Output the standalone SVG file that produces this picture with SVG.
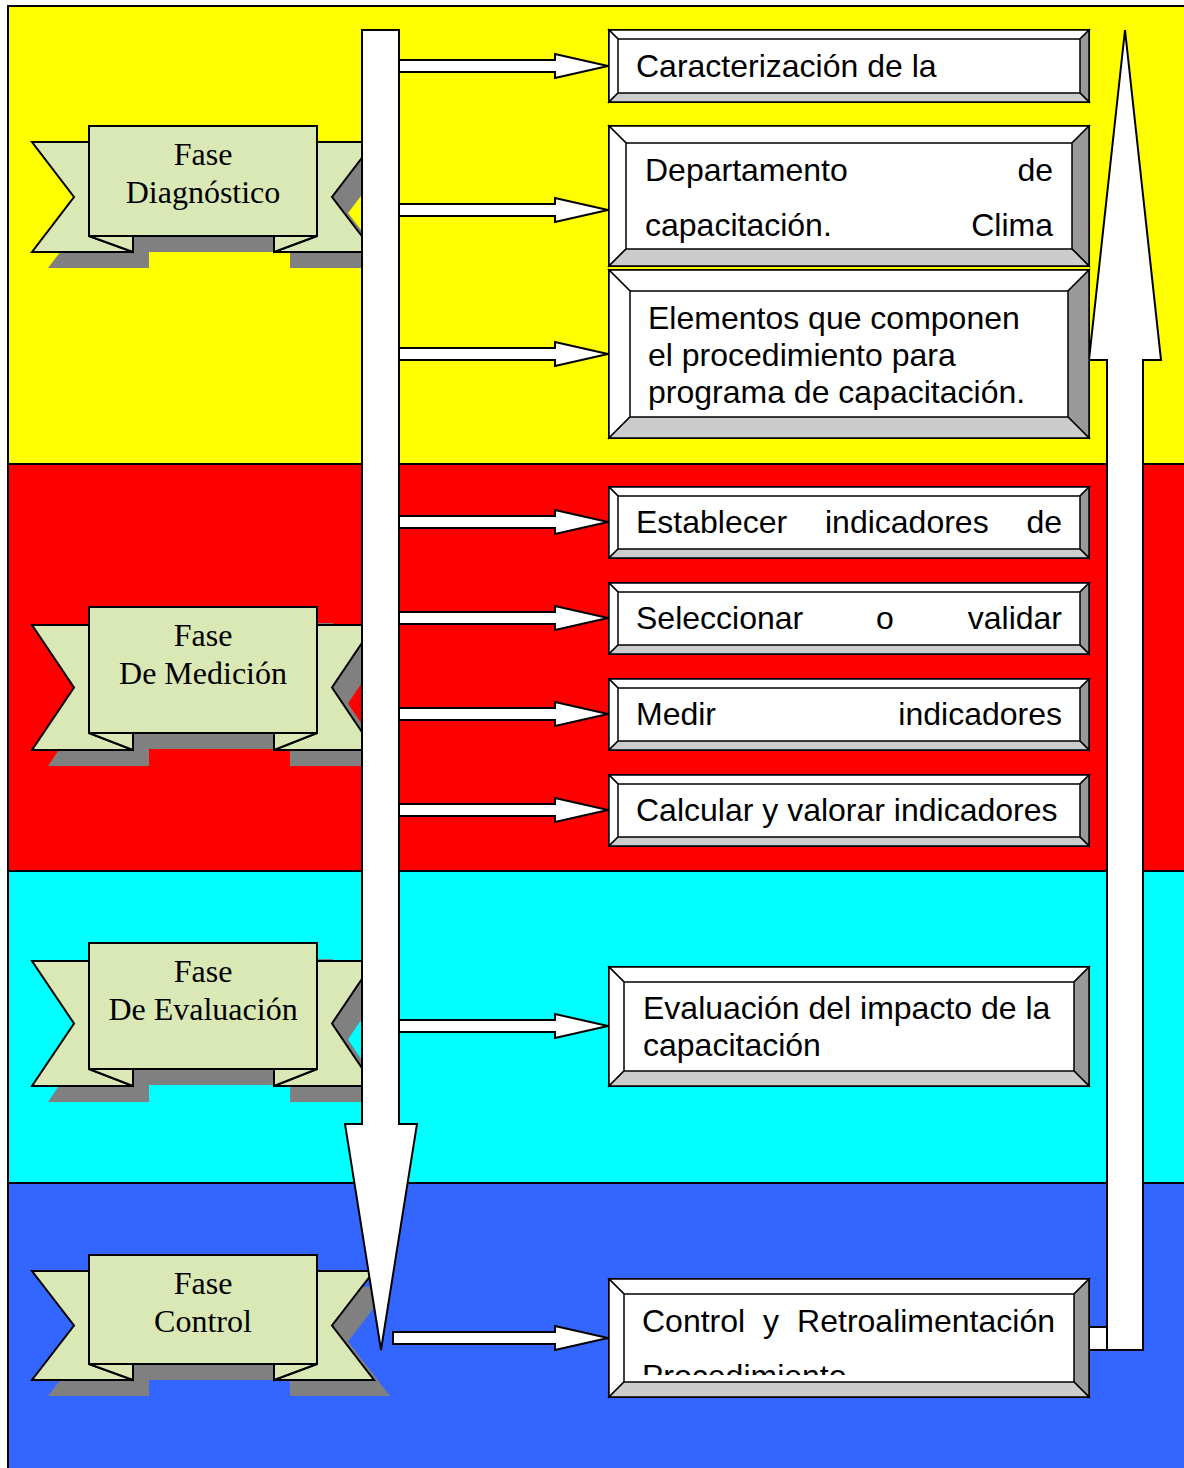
<svg xmlns="http://www.w3.org/2000/svg" width="1184" height="1468" viewBox="0 0 1184 1468">
<style>
.band{stroke:#000;stroke-width:2}
.rib{fill:#d9e8b5;stroke:#000;stroke-width:2;stroke-linejoin:miter}
.shd{fill:#808080}
.rt{font-family:"Liberation Serif","Times New Roman",serif;font-size:32px;fill:#000;text-anchor:middle}
.bt{font-family:"Liberation Sans",Arial,sans-serif;font-size:32px;fill:#000}
.wa{fill:#fff;stroke:#000;stroke-width:2;stroke-linejoin:miter}
.bvf{fill:#fff;stroke:#000;stroke-width:2}
.bvl{fill:#fff;stroke:#000;stroke-width:1.5}
.bvr{fill:#999;stroke:#000;stroke-width:1.5}
.bvb{fill:#ccc;stroke:#000;stroke-width:1.5}
</style>
<defs>
<path id="harrow" d="M399,-6 L555,-6 L555,-12 L608,0 L555,12 L555,6 L399,6 Z"/>
<clipPath id="clip9"><rect x="623" y="1294" width="451" height="81"/></clipPath>
</defs>

<g id="bands">
<rect class="band" x="8" y="6" width="1180" height="458" fill="#ffff00"/>
<rect class="band" x="8" y="464" width="1180" height="407" fill="#ff0000"/>
<rect class="band" x="8" y="871" width="1180" height="312" fill="#00ffff"/>
<rect class="band" x="8" y="1183" width="1180" height="290" fill="#3366ff"/>
</g>

<g id="ribbon-diagnostico">
<g class="shd" transform="translate(16,16)">
<rect x="89" y="126" width="228" height="110"/>
<polygon points="32,142 89,142 89,236 133,236 133,252 32,252 74,197"/>
<polygon points="317,142 374,142 332,197 374,252 274,252 274,236 317,236"/>
</g>
<polygon class="rib" points="32,142 89,142 89,236 133,252 32,252 74,197"/>
<polygon class="rib" points="317,142 374,142 332,197 374,252 274,252 317,236"/>
<polygon class="rib" points="89,236 133,236 133,252"/>
<polygon class="rib" points="317,236 274,236 274,252"/>
<rect class="rib" x="89" y="126" width="228" height="110"/>
<text class="rt" x="203" y="165">Fase</text>
<text class="rt" x="203" y="203">Diagnóstico</text>
</g>

<g id="ribbon-medicion">
<g class="shd" transform="translate(16,16)">
<rect x="89" y="607" width="228" height="126"/>
<polygon points="32,625 89,625 89,733 133,733 133,750 32,750 74,687.5"/>
<polygon points="317,625 374,625 332,687.5 374,750 274,750 274,733 317,733"/>
</g>
<polygon class="rib" points="32,625 89,625 89,733 133,750 32,750 74,687.5"/>
<polygon class="rib" points="317,625 374,625 332,687.5 374,750 274,750 317,733"/>
<polygon class="rib" points="89,733 133,733 133,750"/>
<polygon class="rib" points="317,733 274,733 274,750"/>
<rect class="rib" x="89" y="607" width="228" height="126"/>
<text class="rt" x="203" y="646">Fase</text>
<text class="rt" x="203" y="684">De Medición</text>
</g>

<g id="ribbon-evaluacion">
<g class="shd" transform="translate(16,16)">
<rect x="89" y="943" width="228" height="126"/>
<polygon points="32,961 89,961 89,1069 133,1069 133,1086 32,1086 74,1023.5"/>
<polygon points="317,961 374,961 332,1023.5 374,1086 274,1086 274,1069 317,1069"/>
</g>
<polygon class="rib" points="32,961 89,961 89,1069 133,1086 32,1086 74,1023.5"/>
<polygon class="rib" points="317,961 374,961 332,1023.5 374,1086 274,1086 317,1069"/>
<polygon class="rib" points="89,1069 133,1069 133,1086"/>
<polygon class="rib" points="317,1069 274,1069 274,1086"/>
<rect class="rib" x="89" y="943" width="228" height="126"/>
<text class="rt" x="203" y="982">Fase</text>
<text class="rt" x="203" y="1020">De Evaluación</text>
</g>

<g id="ribbon-control">
<g class="shd" transform="translate(16,16)">
<rect x="89" y="1255" width="228" height="109"/>
<polygon points="32,1271 89,1271 89,1364 133,1364 133,1380 32,1380 74,1325.5"/>
<polygon points="317,1271 374,1271 332,1325.5 374,1380 274,1380 274,1364 317,1364"/>
</g>
<polygon class="rib" points="32,1271 89,1271 89,1364 133,1380 32,1380 74,1325.5"/>
<polygon class="rib" points="317,1271 374,1271 332,1325.5 374,1380 274,1380 317,1364"/>
<polygon class="rib" points="89,1364 133,1364 133,1380"/>
<polygon class="rib" points="317,1364 274,1364 274,1380"/>
<rect class="rib" x="89" y="1255" width="228" height="109"/>
<text class="rt" x="203" y="1294">Fase</text>
<text class="rt" x="203" y="1332">Control</text>
</g>

<g id="connectors">
<polygon class="wa" points="362,30 399,30 399,1124 417,1124 381,1350 345,1124 362,1124"/>
<use href="#harrow" class="wa" transform="translate(0,66)"/>
<use href="#harrow" class="wa" transform="translate(0,210)"/>
<use href="#harrow" class="wa" transform="translate(0,354)"/>
<use href="#harrow" class="wa" transform="translate(0,522)"/>
<use href="#harrow" class="wa" transform="translate(0,618)"/>
<use href="#harrow" class="wa" transform="translate(0,714)"/>
<use href="#harrow" class="wa" transform="translate(0,810)"/>
<use href="#harrow" class="wa" transform="translate(0,1026)"/>
<path class="wa" d="M393,1332 L555,1332 L555,1326 L608,1338 L555,1350 L555,1344 L393,1344 Z"/>
<rect class="wa" x="1089" y="1327" width="18" height="23"/>
<polygon class="wa" points="1125,30 1161,360 1143,360 1143,1350 1107,1350 1107,360 1089,360"/>
</g>

<g id="box1">
<rect class="bvf" x="609" y="30" width="480" height="72"/>
<polygon class="bvl" points="609,30 1089,30 1080,39 618,39"/>
<polygon class="bvl" points="609,30 618,39 618,93 609,102"/>
<polygon class="bvr" points="1089,30 1089,102 1080,93 1080,39"/>
<polygon class="bvb" points="609,102 1089,102 1080,93 618,93"/>
<text class="bt" x="636" y="77">Caracterización de la</text>
</g>

<g id="box2">
<rect class="bvf" x="609" y="126" width="480" height="140"/>
<polygon class="bvl" points="609,126 1089,126 1072,143 626,143"/>
<polygon class="bvl" points="609,126 626,143 626,249 609,266"/>
<polygon class="bvr" points="1089,126 1089,266 1072,249 1072,143"/>
<polygon class="bvb" points="609,266 1089,266 1072,249 626,249"/>
<text class="bt" x="645" y="181">Departamento</text>
<text class="bt" x="1053" y="181" text-anchor="end">de</text>
<text class="bt" x="645" y="236">capacitación.</text>
<text class="bt" x="1053" y="236" text-anchor="end">Clima</text>
</g>

<g id="box3">
<rect class="bvf" x="609" y="270" width="480" height="168"/>
<polygon class="bvl" points="609,270 1089,270 1068,291 630,291"/>
<polygon class="bvl" points="609,270 630,291 630,417 609,438"/>
<polygon class="bvr" points="1089,270 1089,438 1068,417 1068,291"/>
<polygon class="bvb" points="609,438 1089,438 1068,417 630,417"/>
<text class="bt" x="648" y="329">Elementos que componen</text>
<text class="bt" x="648" y="366">el procedimiento para</text>
<text class="bt" x="648" y="403">programa de capacitación.</text>
</g>

<g id="box4">
<rect class="bvf" x="609" y="487" width="480" height="71"/>
<polygon class="bvl" points="609,487 1089,487 1080,496 618,496"/>
<polygon class="bvl" points="609,487 618,496 618,549 609,558"/>
<polygon class="bvr" points="1089,487 1089,558 1080,549 1080,496"/>
<polygon class="bvb" points="609,558 1089,558 1080,549 618,549"/>
<text class="bt" x="636" y="533">Establecer</text>
<text class="bt" x="825" y="533">indicadores</text>
<text class="bt" x="1062" y="533" text-anchor="end">de</text>
</g>

<g id="box5">
<rect class="bvf" x="609" y="583" width="480" height="71"/>
<polygon class="bvl" points="609,583 1089,583 1080,592 618,592"/>
<polygon class="bvl" points="609,583 618,592 618,645 609,654"/>
<polygon class="bvr" points="1089,583 1089,654 1080,645 1080,592"/>
<polygon class="bvb" points="609,654 1089,654 1080,645 618,645"/>
<text class="bt" x="636" y="629">Seleccionar</text>
<text class="bt" x="885" y="629" text-anchor="middle">o</text>
<text class="bt" x="1062" y="629" text-anchor="end">validar</text>
</g>

<g id="box6">
<rect class="bvf" x="609" y="679" width="480" height="71"/>
<polygon class="bvl" points="609,679 1089,679 1080,688 618,688"/>
<polygon class="bvl" points="609,679 618,688 618,741 609,750"/>
<polygon class="bvr" points="1089,679 1089,750 1080,741 1080,688"/>
<polygon class="bvb" points="609,750 1089,750 1080,741 618,741"/>
<text class="bt" x="636" y="725">Medir</text>
<text class="bt" x="1062" y="725" text-anchor="end">indicadores</text>
</g>

<g id="box7">
<rect class="bvf" x="609" y="775" width="480" height="71"/>
<polygon class="bvl" points="609,775 1089,775 1080,784 618,784"/>
<polygon class="bvl" points="609,775 618,784 618,837 609,846"/>
<polygon class="bvr" points="1089,775 1089,846 1080,837 1080,784"/>
<polygon class="bvb" points="609,846 1089,846 1080,837 618,837"/>
<text class="bt" x="636" y="821">Calcular y valorar indicadores</text>
</g>

<g id="box8">
<rect class="bvf" x="609" y="967" width="480" height="119"/>
<polygon class="bvl" points="609,967 1089,967 1074,982 624,982"/>
<polygon class="bvl" points="609,967 624,982 624,1071 609,1086"/>
<polygon class="bvr" points="1089,967 1089,1086 1074,1071 1074,982"/>
<polygon class="bvb" points="609,1086 1089,1086 1074,1071 624,1071"/>
<text class="bt" x="643" y="1019">Evaluación del impacto de la</text>
<text class="bt" x="643" y="1056">capacitación</text>
</g>

<g id="box9">
<rect class="bvf" x="609" y="1279" width="480" height="118"/>
<polygon class="bvl" points="609,1279 1089,1279 1074,1294 624,1294"/>
<polygon class="bvl" points="609,1279 624,1294 624,1382 609,1397"/>
<polygon class="bvr" points="1089,1279 1089,1397 1074,1382 1074,1294"/>
<polygon class="bvb" points="609,1397 1089,1397 1074,1382 624,1382"/>
<g clip-path="url(#clip9)">
<text class="bt" x="642" y="1332">Control</text>
<text class="bt" x="771" y="1332" text-anchor="middle">y</text>
<text class="bt" x="1055" y="1332" text-anchor="end">Retroalimentación</text>
<text class="bt" x="642" y="1387">Procedimiento</text>
</g>
</g>
</svg>
